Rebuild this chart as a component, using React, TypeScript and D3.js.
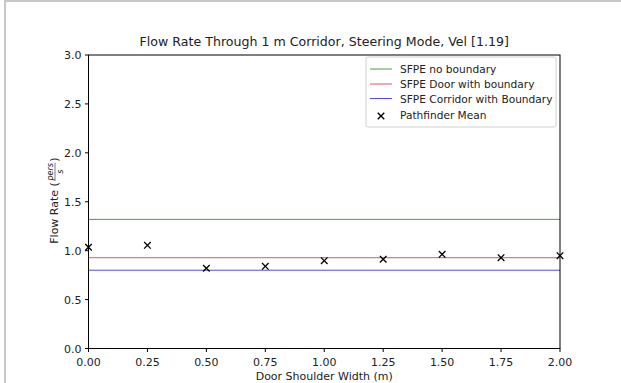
import React from "react";
import * as d3 from "d3";

const xs = [0, 0.25, 0.5, 0.75, 1.0, 1.25, 1.5, 1.75, 2.0];
const pathfinderMean = [1.035, 1.055, 0.82, 0.84, 0.898, 0.912, 0.963, 0.928, 0.949];
const sfpeNoBoundary = 1.32;
const sfpeDoor = 0.928;
const sfpeCorridor = 0.8;
const xTicks = [0, 0.25, 0.5, 0.75, 1.0, 1.25, 1.5, 1.75, 2.0];
const yTicks = [0, 0.5, 1.0, 1.5, 2.0, 2.5, 3.0];
const legendLabels = ["SFPE no boundary", "SFPE Door with boundary", "SFPE Corridor with Boundary", "Pathfinder Mean"];

const W = 621, H = 383;
const L = 88.5, R = 560, T = 55, B = 348.5;
const font = "DejaVu Sans, sans-serif";
const cGreen = "#45a045";
const cRed = "#e0566c";
const cBlue = "#5a4ae0";
const FS = 11;
const LFS = 10.6;

export default function App() {
  const x = d3.scaleLinear().domain([0, 2]).range([L, R]);
  const y = d3.scaleLinear().domain([0, 3]).range([B, T]);
  const hl = (v: number, c: string) => (
    <line x1={x(0)} x2={x(2)} y1={y(v)} y2={y(v)} stroke={c} strokeWidth={1} />
  );
  const legX = 366, legY = 57, legW = 190, legH = 70;
  const rowY = [69, 84, 98.5, 115];
  const colors = [cGreen, cRed, cBlue];
  return (
    <svg width={W} height={H} style={{ position: "absolute", left: 0, top: 0, background: "#fff" }} fontFamily={font}>
      <rect x={0} y={0} width={W} height={H} fill="#fff" />
      <line x1={4} x2={W} y1={1} y2={1} stroke="#c8c8c8" strokeWidth={2} />
      <line x1={5} x2={5} y1={0} y2={H} stroke="#c8c8c8" strokeWidth={2} />
      <defs>
        <clipPath id="clip"><rect x={L} y={T} width={R - L} height={B - T} /></clipPath>
      </defs>
      <g clipPath="url(#clip)">
        {hl(sfpeNoBoundary, cGreen)}
        {hl(sfpeDoor, cRed)}
        {hl(sfpeCorridor, cBlue)}
      </g>
      {xs.map((v, i) => {
        const cx = x(v), cy = y(pathfinderMean[i]);
        const s = 3.3;
        return (
          <g key={i} stroke="#000" strokeWidth={1.3}>
            <line x1={cx - s} x2={cx + s} y1={cy - s} y2={cy + s} />
            <line x1={cx - s} x2={cx + s} y1={cy + s} y2={cy - s} />
          </g>
        );
      })}
      <rect x={L} y={T} width={R - L} height={B - T} fill="none" stroke="#000" strokeWidth={1} />
      {xTicks.map((t) => (
        <g key={t}>
          <line x1={x(t)} x2={x(t)} y1={B} y2={B + 3.5} stroke="#000" />
          <text x={x(t)} y={B + 17} fontSize={FS} textAnchor="middle" fill="#222">{t.toFixed(2)}</text>
        </g>
      ))}
      {yTicks.map((t) => (
        <g key={t}>
          <line x1={L - 3.5} x2={L} y1={y(t)} y2={y(t)} stroke="#000" />
          <text x={L - 7} y={y(t) + 4} fontSize={FS} textAnchor="end" fill="#222">{t.toFixed(1)}</text>
        </g>
      ))}
      <text x={(L + R) / 2} y={380} fontSize={FS} textAnchor="middle" fill="#222">Door Shoulder Width (m)</text>
      <text x={(L + R) / 2} y={46} fontSize={12.6} textAnchor="middle" fill="#222">Flow Rate Through 1 m Corridor, Steering Mode, Vel [1.19]</text>
      <g transform={`translate(58, ${(T + B) / 2}) rotate(-90)`} fill="#222">
        <text x={-42} y={0} fontSize={FS} textAnchor="start">Flow Rate (</text>
        <text x={30} y={-5} fontSize={8} fontStyle="italic" textAnchor="middle">pers</text>
        <line x1={21} x2={39} y1={-3} y2={-3} stroke="#222" strokeWidth={0.6} />
        <text x={30} y={4.5} fontSize={8} fontStyle="italic" textAnchor="middle">s</text>
        <text x={40} y={0} fontSize={FS} textAnchor="start">)</text>
      </g>
      <rect x={legX} y={legY} width={legW} height={legH} rx={2} fill="#fff" fillOpacity={0.8} stroke="#d0d0d0" strokeWidth={1} />
      {legendLabels.map((lab, i) => (
        <g key={lab}>
          {i < 3 ? (
            <line x1={370} x2={392} y1={rowY[i]} y2={rowY[i]} stroke={colors[i]} strokeWidth={1} />
          ) : (
            <g stroke="#000" strokeWidth={1.3}>
              <line x1={381 - 3.3} x2={381 + 3.3} y1={rowY[i] + 1 - 3.3} y2={rowY[i] + 1 + 3.3} />
              <line x1={381 - 3.3} x2={381 + 3.3} y1={rowY[i] + 1 + 3.3} y2={rowY[i] + 1 - 3.3} />
            </g>
          )}
          <text x={400} y={rowY[i] + 4} fontSize={LFS} fill="#222">{lab}</text>
        </g>
      ))}
    </svg>
  );
}
